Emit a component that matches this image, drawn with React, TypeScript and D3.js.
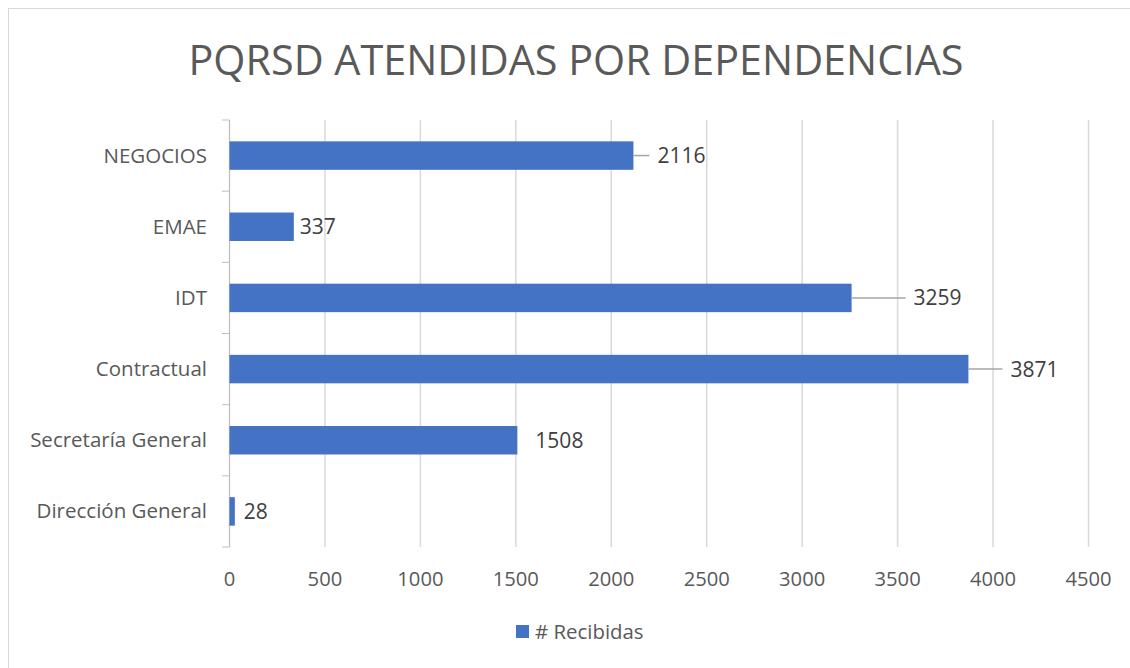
import React from "react";
import * as d3 from "d3";

const categories = ["NEGOCIOS", "EMAE", "IDT", "Contractual", "Secretaría General", "Dirección General"];
const recibidas = [2116, 337, 3259, 3871, 1508, 28];
const xTicks = [0, 500, 1000, 1500, 2000, 2500, 3000, 3500, 4000, 4500];
const title = "PQRSD ATENDIDAS POR DEPENDENCIAS";
const seriesName = "# Recibidas";

// manual data-label placement (Excel dragged labels): gap from bar end, leader length
const labelGap = [24, 6, 62, 42, 18, 9];
const leaderLen = [16, 0, 54, 34, 0, 0];

export default function App() {
  const W = 1130, H = 668;
  const x = d3.scaleLinear().domain([0, 4500]).range([229.5, 1088.5]);
  const y = d3.scaleBand<string>().domain(categories).range([120, 547]).paddingInner(0.6).paddingOuter(0.3);
  const boundaries = d3.range(categories.length + 1).map((i) => 120 + i * (427 / categories.length));
  const font = "'Open Sans', sans-serif";
  const gray = "#595959";

  return (
    <svg width={W} height={H} style={{ position: "absolute", left: 0, top: 0, background: "#fff" }} fontFamily={font}>
      <rect x={8.5} y={8.5} width={1140} height={680} fill="#fff" stroke="#d9d9d9" />
      <text x={576} y={74.5} textAnchor="middle" fontSize={41.3} fill={gray}>{title}</text>
      {xTicks.map((t) => (
        <line key={t} x1={x(t)} x2={x(t)} y1={120} y2={547} stroke="#d9d9d9" strokeWidth={1.5} />
      ))}
      <line x1={229.5} x2={229.5} y1={120} y2={547} stroke="#bfbfbf" strokeWidth={1} />
      {boundaries.map((b, i) => (
        <line key={i} x1={222} x2={229.5} y1={b} y2={b} stroke="#bfbfbf" strokeWidth={1} />
      ))}
      {categories.map((c, i) => {
        const y0 = y(c)!;
        const bw = y.bandwidth();
        const xe = x(recibidas[i]);
        const cy = y0 + bw / 2;
        return (
          <g key={c}>
            <rect x={x(0)} y={y0} width={xe - x(0)} height={bw} fill="#4472C4" />
            {leaderLen[i] > 0 && (
              <line x1={xe} x2={xe + leaderLen[i]} y1={cy} y2={cy} stroke="#a6a6a6" strokeWidth={1.5} />
            )}
            <text x={xe + labelGap[i]} y={cy + 7.5} fontSize={21} fill="#404040">{recibidas[i]}</text>
            <text x={207} y={cy + 7} textAnchor="end" fontSize={20.5} fill={gray}>{c}</text>
          </g>
        );
      })}
      {xTicks.map((t) => (
        <text key={t} x={x(t)} y={585.5} textAnchor="middle" fontSize={20.2} fill={gray}>{t}</text>
      ))}
      <rect x={516} y={625} width={13} height={13} fill="#4472C4" />
      <text x={535} y={638.5} fontSize={20.4} fill={gray}>{seriesName}</text>
    </svg>
  );
}
